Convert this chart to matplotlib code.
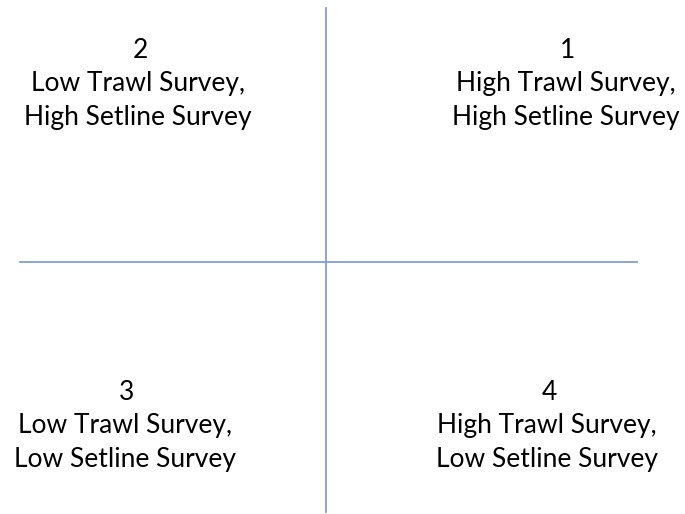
import matplotlib
matplotlib.use("Agg")
from matplotlib import pyplot as plt

# Quadrant diagram: trawl survey vs setline survey
quadrant_numbers = ["2", "1", "3", "4"]
quadrant_lines = [
    ["Low Trawl Survey,", "High Setline Survey"],
    ["High Trawl Survey,", "High Setline Survey"],
    ["Low Trawl Survey,", "Low Setline Survey"],
    ["High Trawl Survey,", "Low Setline Survey"],
]
# label centres in pixel space (x, y of the number)
label_x = [138, 566, 125, 547]
label_y = [50, 50, 392, 392]

line_color = "#7f9fd4"

fig = plt.figure(figsize=(6.85, 5.14), dpi=100)
fig.patch.set_facecolor("white")
ax = fig.add_axes([0, 0, 1, 1])
ax.set_xlim(0, 685)
ax.set_ylim(514, 0)
ax.axis("off")

# axes of the diagram
ax.plot([326, 326], [8, 512], color=line_color, lw=1.3)
ax.plot([20, 637], [262, 262], color=line_color, lw=1.3)

font = ["Lato", "DejaVu Sans"]
for num, lines, x, y in zip(quadrant_numbers, quadrant_lines, label_x, label_y):
    ax.text(x + 2, y, num, ha="center", va="center", fontsize=19, family=font, color="black")
    for i, txt in enumerate(lines):
        ax.text(x, y + 34 * (i + 1), txt, ha="center", va="center",
                fontsize=19, family=font, color="black")

fig.savefig("out.png", dpi=100)
plt.close(fig)
